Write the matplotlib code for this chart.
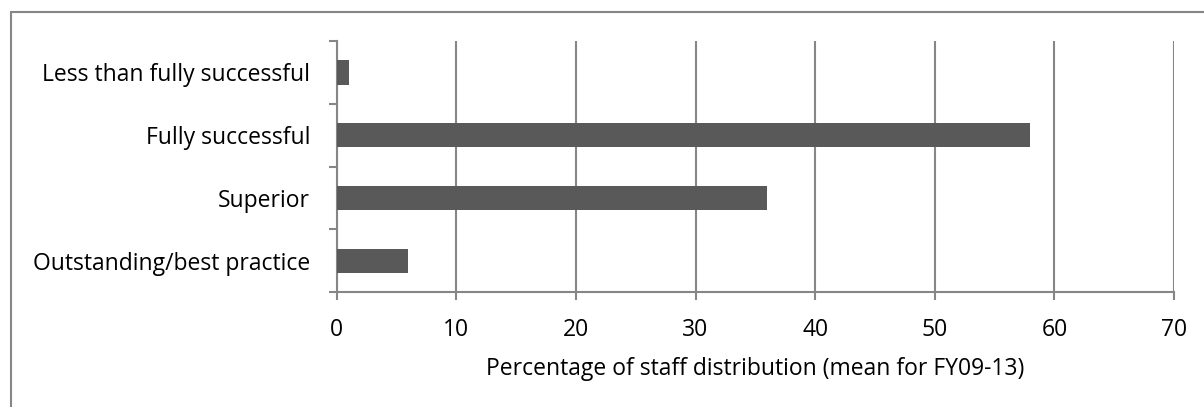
import matplotlib
matplotlib.use("Agg")
import matplotlib.pyplot as plt
from matplotlib.patches import Rectangle

categories = ["Outstanding/best practice", "Superior", "Fully successful", "Less than fully successful"]
values = [6, 36, 58, 1]
xticks = [0, 10, 20, 30, 40, 50, 60, 70]
xlabel = "Percentage of staff distribution (mean for FY09-13)"

W, H = 1204, 407
FS = 16.5
plt.rcParams["font.family"] = ["Open Sans", "DejaVu Sans"]

fig = plt.figure(figsize=(W / 100, H / 100), dpi=100)
ax = fig.add_axes([336.7 / W, 1 - 292.3 / H, (1174 - 336.7) / W, (292.3 - 41) / H])

grid_c = "#868686"
ax.barh(range(len(categories)), values, height=0.39, color="#595959", zorder=3)
ax.set_xlim(0, 70)
ax.set_ylim(-0.5, len(categories) - 0.5)
ax.set_xticks(xticks)
ax.set_xticklabels([str(t) for t in xticks], fontsize=FS)
ax.set_yticks(range(len(categories)))
ax.set_yticklabels(categories, fontsize=FS)
ax.set_yticks([i - 0.5 for i in range(len(categories) + 1)], minor=True)
ax.tick_params(axis="y", which="major", length=0, pad=19)
ax.tick_params(axis="y", which="minor", length=6, color=grid_c, width=1.5)
ax.tick_params(axis="x", length=5.5, color=grid_c, width=1.5, pad=13)
ax.xaxis.grid(True, color=grid_c, linewidth=1.5, zorder=0)
ax.set_axisbelow(True)
for s in ["top", "right"]:
    ax.spines[s].set_visible(False)
for s in ["left", "bottom"]:
    ax.spines[s].set_color(grid_c)
    ax.spines[s].set_linewidth(1.5)
ax.set_xlabel(xlabel, fontsize=FS, labelpad=11)

fig.patches.append(Rectangle((11 / W, -0.1), 1.2, 1 - 12 / H + 0.1, transform=fig.transFigure,
                             fill=False, edgecolor="#868686", linewidth=1.5))

fig.savefig("out.png", dpi=100)
